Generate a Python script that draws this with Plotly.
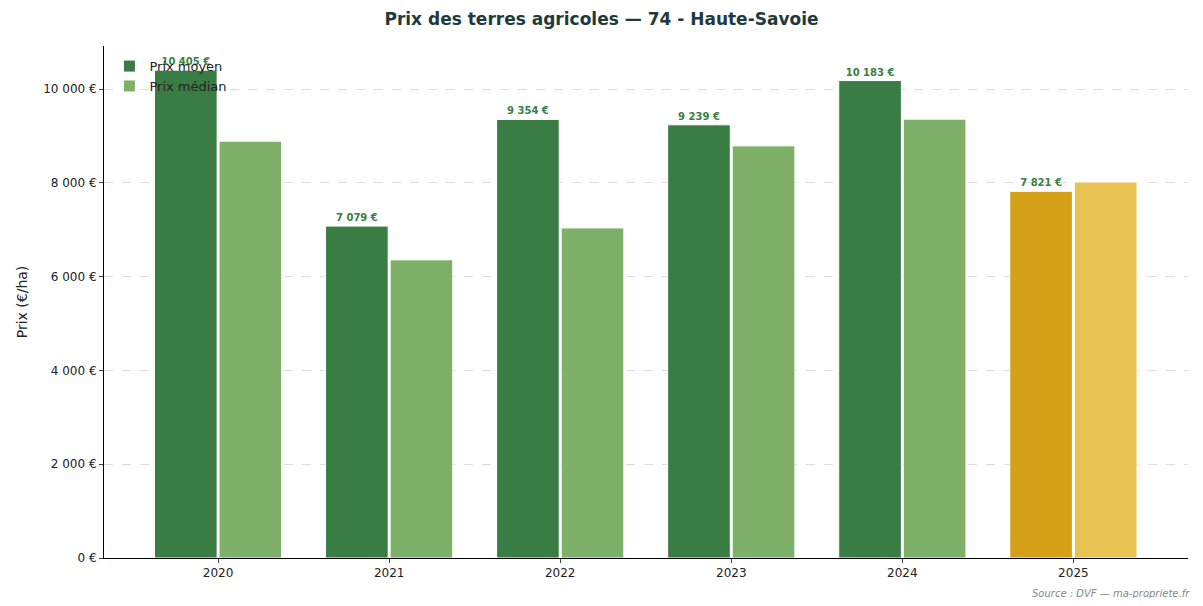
import plotly.graph_objects as go

years = ["2020", "2021", "2022", "2023", "2024", "2025"]
prix_moyen = [10405, 7079, 9354, 9239, 10183, 7821]
prix_median = [8890, 6360, 7040, 8790, 9360, 8020]
labels = ["10 405 €", "7 079 €", "9 354 €", "9 239 €", "10 183 €", "7 821 €"]

c_moy = ["#3a7d44"] * 5 + ["#d4a017"]
c_med = ["#7fb069"] * 5 + ["#e8c252"]

fig = go.Figure()
fig.add_bar(x=years, y=prix_moyen, name="Prix moyen", marker=dict(color=c_moy, line=dict(color="white", width=1)),
            text=labels, textposition="outside", cliponaxis=False,
            textfont=dict(size=10, color="#3a7d44", family="DejaVu Sans"), texttemplate="<b>%{text}</b>")
fig.add_bar(x=years, y=prix_median, name="Prix médian", marker=dict(color=c_med, line=dict(color="white", width=1)))

fig.update_layout(
    width=1187, height=590, barmode="group", bargap=0.245, bargroupgap=0.03,
    paper_bgcolor="white", plot_bgcolor="white",
    font=dict(family="DejaVu Sans", size=12, color="#222"),
    margin=dict(l=96, r=7, t=38, b=40, autoexpand=False),
    title=dict(text="<b>Prix des terres agricoles — 74 - Haute-Savoie</b>", x=0.5, xanchor="center",
               y=1 - 11 / 590, yanchor="middle", font=dict(size=17, color="#1f3a3a")),
    legend=dict(x=0.005, y=0.99, xanchor="left", yanchor="top", bgcolor="rgba(255,255,255,0)", font=dict(size=13)),
    showlegend=True,
)
fig.update_xaxes(range=[-0.667, 5.67], showline=True, linecolor="black", ticks="outside", ticklen=4, automargin=False)
fig.update_yaxes(range=[0, 10920], tickvals=[0, 2000, 4000, 6000, 8000, 10000],
                 ticktext=["0 €", "2 000 €", "4 000 €", "6 000 €", "8 000 €", "10 000 €"],
                 showgrid=True, gridcolor="#dddddd", griddash="dash", zeroline=False, automargin=False,
                 showline=True, linecolor="black", ticks="outside", ticklen=4,
                 title=dict(text="Prix (€/ha)", font=dict(size=14), standoff=12))
fig.add_annotation(text="<i>Source : DVF — ma-propriete.fr</i>", xref="paper", yref="paper", x=1.004, y=-0.055,
                   xanchor="right", yanchor="top", showarrow=False, font=dict(size=10, color="#888"))
fig.write_html("out.html")
